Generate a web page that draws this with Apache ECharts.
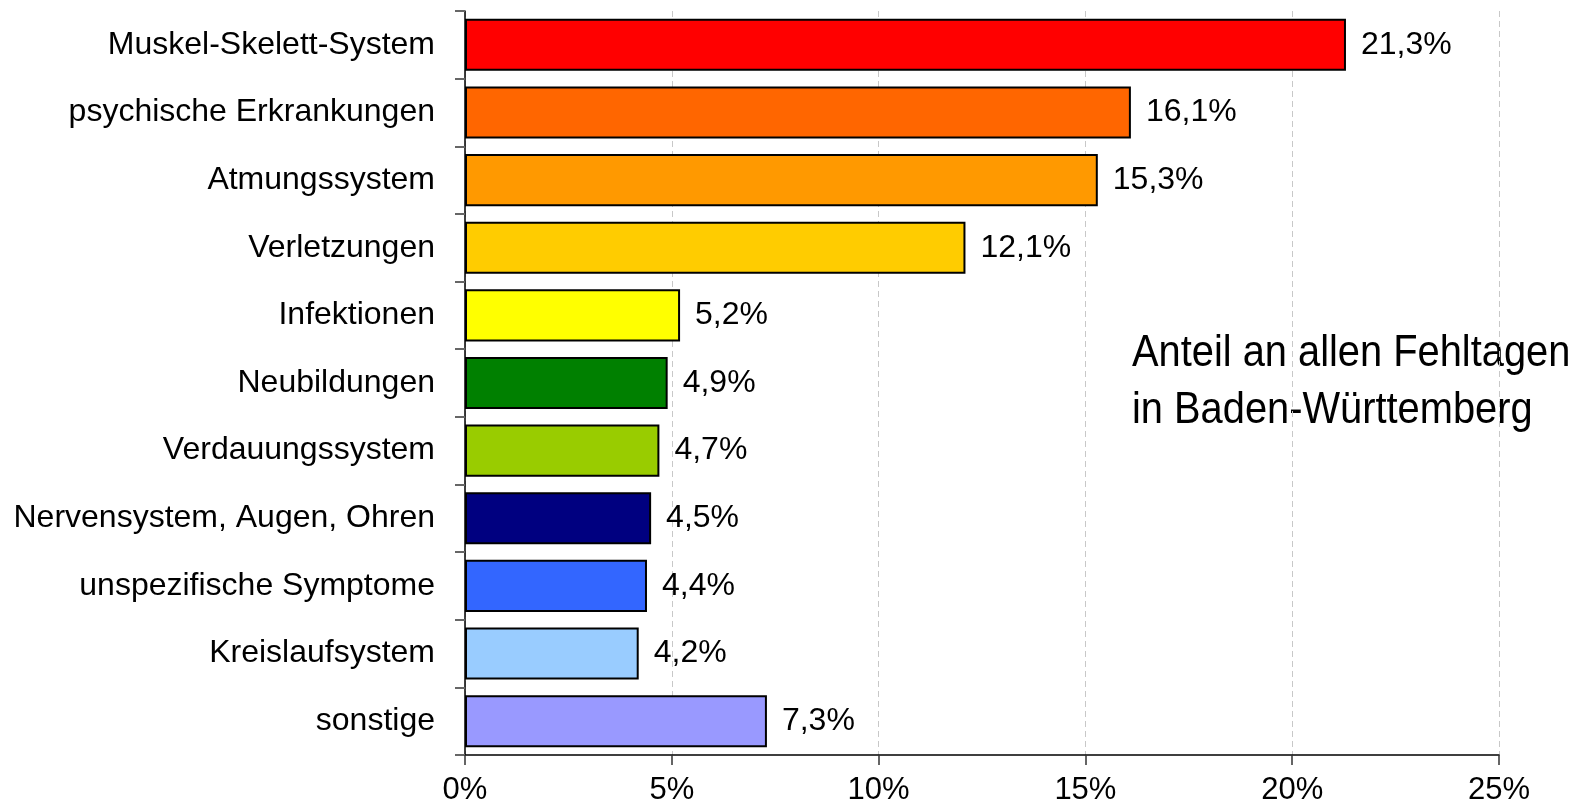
<!DOCTYPE html>
<html><head><meta charset="utf-8">
<script src="https://cdn.jsdelivr.net/npm/echarts@6/dist/echarts.min.js"></script>
<style>html,body{margin:0;padding:0;background:#fff}#c{width:1576px;height:808px}</style>
</head><body><div id="c"></div>
<script>
const categories = ["Muskel-Skelett-System","psychische Erkrankungen","Atmungssystem","Verletzungen","Infektionen","Neubildungen","Verdauungssystem","Nervensystem, Augen, Ohren","unspezifische Symptome","Kreislaufsystem","sonstige"];
const values = [21.3,16.1,15.3,12.1,5.2,4.9,4.7,4.5,4.4,4.2,7.3];
const colors = ["#FF0000","#FF6600","#FF9900","#FFCC00","#FFFF00","#008000","#99CC00","#000080","#3366FF","#99CCFF","#9999FF"];
const xTicks = [0,5,10,15,20,25];
const note = ["Anteil an allen Fehltagen","in Baden-Württemberg"];

const chart = echarts.init(document.getElementById('c'));
const font = '"Liberation Sans", Arial, sans-serif';
chart.setOption({
  animation:false,
  grid:{left:465,right:77,top:11,bottom:53,containLabel:false},
  xAxis:{type:'value',min:xTicks[0],max:xTicks[xTicks.length-1],interval:5,
    axisLine:{show:true,lineStyle:{color:'#000',width:1.5}},
    axisTick:{show:true,length:10,lineStyle:{color:'#333',width:1.5}},
    axisLabel:{formatter:v=>v+'%',fontFamily:font,fontSize:31,color:'#000',margin:20},
    splitLine:{show:true,lineStyle:{color:'#c8c8c8',type:[6,4],width:1}}},
  yAxis:{type:'category',data:categories,inverse:true,
    axisLine:{show:true,lineStyle:{color:'#000',width:1.5}},
    axisTick:{show:true,length:10,lineStyle:{color:'#666',width:2}},
    axisLabel:{fontFamily:font,fontSize:32,color:'#000',margin:30}},
  series:[{type:'bar',data:values.map((v,i)=>({value:v,itemStyle:{color:colors[i]}})),
    barCategoryGap:'23%',
    itemStyle:{borderColor:'#000',borderWidth:2},
    label:{show:true,position:'right',distance:15,fontFamily:font,fontSize:32,color:'#000',
      formatter:p=>p.value.toFixed(1).replace('.',',')+'%'}}],
  graphic:[{type:'text',x:1132,y:325,scaleX:0.905,style:{text:note.join('\n'),font:'44px "Liberation Sans", sans-serif',fill:'#000',lineHeight:57}}]
});
</script></body></html>
